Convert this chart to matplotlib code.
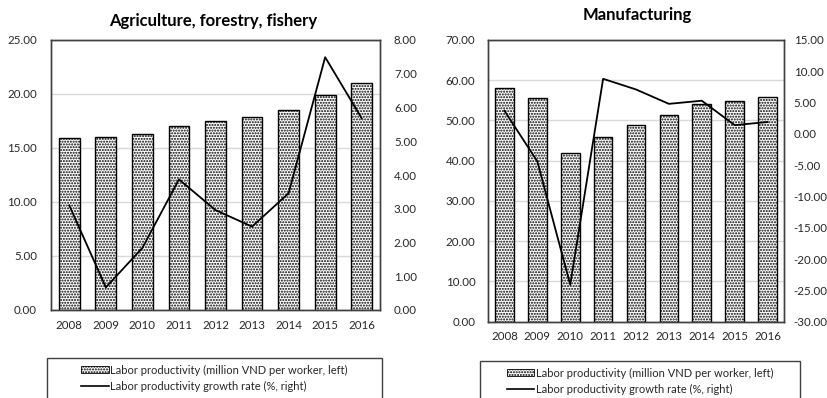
import numpy as np
import matplotlib.pyplot as plt
from matplotlib.patches import Rectangle, Patch
from matplotlib.lines import Line2D

years = ["2008", "2009", "2010", "2011", "2012", "2013", "2014", "2015", "2016"]

agri_prod = [15.9, 16.0, 16.3, 17.0, 17.5, 17.9, 18.5, 19.9, 21.0]
agri_growth = [3.1, 0.67, 1.84, 3.87, 2.96, 2.47, 3.46, 7.49, 5.68]

manu_prod = [58.0, 55.5, 42.0, 45.8, 48.9, 51.3, 54.0, 54.8, 55.8]
manu_growth = [3.7, -4.4, -24.1, 8.8, 7.1, 4.8, 5.3, 1.4, 1.9]

bar_label = "Labor productivity (million VND per worker, left)"
line_label = "Labor productivity growth rate (%, right)"

plt.rcParams["font.family"] = ["Lato", "DejaVu Sans"]
plt.rcParams["hatch.linewidth"] = 1.0

W, H = 827, 398
fig = plt.figure(figsize=(W / 100, H / 100), dpi=100)

TXT = "#262626"


def px_axes(x0, x1, y0, y1):
    # pixel box -> figure fraction
    return fig.add_axes([x0 / W, 1 - y1 / H, (x1 - x0) / W, (y1 - y0) / H])


def panel(box, prod, growth, lticks, rticks, title, title_xy, lpad, rpad, legend_box):
    ax = px_axes(*box)
    x = np.arange(len(years))
    ax.bar(x, prod, width=0.57, facecolor="white", edgecolor="black",
           hatch="......", linewidth=1.0, zorder=2)
    ax.set_xlim(-0.5, len(years) - 0.5)
    ax.set_ylim(lticks[0], lticks[-1])
    ax.set_yticks(lticks)
    ax.set_yticklabels([f"{v:.2f}" for v in lticks])
    ax.set_xticks(x)
    ax.set_xticklabels(years)
    ax.yaxis.grid(True, color="#d9d9d9", lw=1.0, zorder=0)
    ax.set_axisbelow(True)
    ax.tick_params(axis="y", length=0, pad=lpad, labelsize=8.3, colors=TXT)
    ax.tick_params(axis="x", length=0, pad=7, labelsize=8.3, colors=TXT)

    ax2 = ax.twinx()
    ax2.plot(x, growth, color="black", lw=1.3, zorder=5)
    ax2.set_ylim(rticks[0], rticks[-1])
    ax2.set_yticks(rticks)
    ax2.set_yticklabels([f"{v:.2f}" for v in rticks])
    ax2.tick_params(axis="y", length=0, pad=rpad, labelsize=8.3, colors=TXT)
    for a in (ax, ax2):
        for s in a.spines.values():
            s.set_color("#404040")
            s.set_linewidth(1.0)

    fig.text(title_xy[0] / W, 1 - title_xy[1] / H, title, ha="center", va="center",
             fontsize=12, fontweight="bold", color="black")

    # legend box (cut off at the bottom like the original)
    bx0, bx1, by0 = legend_box
    fig.patches.append(Rectangle((bx0 / W, -0.05), (bx1 - bx0) / W, 1 - by0 / H + 0.05,
                                 transform=fig.transFigure, facecolor="white",
                                 edgecolor="#404040", lw=1.0, zorder=1))
    handles = [Patch(facecolor="white", edgecolor="black", hatch="......", lw=0.6),
               Line2D([0], [0], color="black", lw=1.2)]
    leg = fig.legend(handles, [bar_label, line_label], loc="upper center",
                     bbox_to_anchor=((bx0 + bx1) / 2 / W, 1 - (by0 + 1) / H),
                     frameon=False, fontsize=8.0, handlelength=2.5, handleheight=0.6,
                     handletextpad=0.15, labelspacing=0.45, borderpad=0.0)
    for t in leg.get_texts():
        t.set_color(TXT)
    leg.set_zorder(3)
    return ax, ax2


panel((51, 380, 40, 310), agri_prod, agri_growth,
      [0, 5, 10, 15, 20, 25], [0, 1, 2, 3, 4, 5, 6, 7, 8],
      "Agriculture, forestry, fishery", (213, 21), 10, 10, (47, 382, 358))

panel((488, 784, 40, 321.7), manu_prod, manu_growth,
      [0, 10, 20, 30, 40, 50, 60, 70], [-30, -25, -20, -15, -10, -5, 0, 5, 10, 15],
      "Manufacturing", (637, 15), 9, 7, (480, 800, 361))

fig.savefig("out.png", dpi=100, facecolor="white")
